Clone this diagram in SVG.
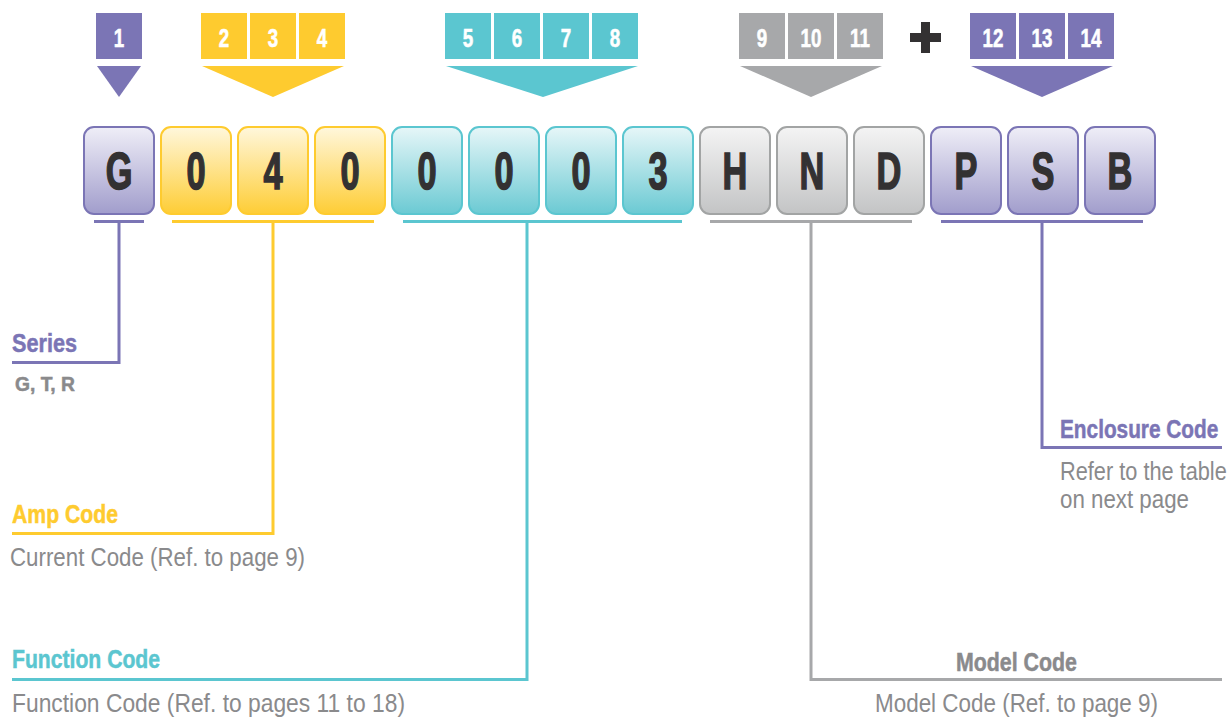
<svg xmlns="http://www.w3.org/2000/svg" width="1231" height="718" viewBox="0 0 1231 718">
<defs>
<linearGradient id="gP" x1="0" y1="0" x2="0" y2="1"><stop offset="0" stop-color="#efeef7"/><stop offset="1" stop-color="#a19dcc"/></linearGradient>
<linearGradient id="gY" x1="0" y1="0" x2="0" y2="1"><stop offset="0" stop-color="#fff7dc"/><stop offset="1" stop-color="#fecd35"/></linearGradient>
<linearGradient id="gC" x1="0" y1="0" x2="0" y2="1"><stop offset="0" stop-color="#e6f6f8"/><stop offset="1" stop-color="#6bcad3"/></linearGradient>
<linearGradient id="gG" x1="0" y1="0" x2="0" y2="1"><stop offset="0" stop-color="#f4f4f4"/><stop offset="1" stop-color="#c3c4c5"/></linearGradient>
</defs>
<style>
.num{font-family:"Liberation Sans",Arial,sans-serif;font-weight:bold;font-size:25px;fill:#fff;stroke:#fff;stroke-width:0.6;text-anchor:middle}
.let{font-family:"Liberation Sans",Arial,sans-serif;font-weight:bold;font-size:52px;fill:#333132;stroke:#333132;stroke-width:1.6;text-anchor:middle}
.bP{fill:url(#gP);stroke:#7b75b5;stroke-width:2}
.bY{fill:url(#gY);stroke:#fecb2f;stroke-width:2}
.bC{fill:url(#gC);stroke:#5bc6d0;stroke-width:2}
.bG{fill:url(#gG);stroke:#a2a4a4;stroke-width:2}
.hd{font-family:"Liberation Sans",Arial,sans-serif;font-weight:bold;font-size:26px;stroke-width:0.5}
.sub{font-family:"Liberation Sans",Arial,sans-serif;font-size:25px;fill:#8a8a8c}
.ln{fill:none;stroke-width:3}
</style>

<g id="top-markers">
<g id="m1" fill="#7b75b5"><rect x="96" y="13" width="46" height="46"/><polygon points="97,66 141,66 119,97"/></g>
<g id="m234" fill="#fecb2f"><rect x="201" y="13" width="46" height="46"/><rect x="250" y="13" width="46" height="46"/><rect x="299" y="13" width="46" height="46"/><polygon points="202,66 344,66 273,97"/></g>
<g id="m5678" fill="#5bc6d0"><rect x="445" y="13" width="46" height="46"/><rect x="494" y="13" width="46" height="46"/><rect x="543" y="13" width="46" height="46"/><rect x="592" y="13" width="46" height="46"/><polygon points="446,66 638,66 543,97"/></g>
<g id="m91011" fill="#a7a8aa"><rect x="739" y="13" width="46" height="46"/><rect x="788" y="13" width="46" height="46"/><rect x="837" y="13" width="46" height="46"/><polygon points="740,66 882,66 811,97"/></g>
<g id="plus" fill="#333132"><rect x="910" y="33" width="31" height="9"/><rect x="921" y="22" width="9" height="31"/></g>
<g id="m121314" fill="#7b75b5"><rect x="970" y="13" width="46" height="46"/><rect x="1019" y="13" width="46" height="46"/><rect x="1068" y="13" width="46" height="46"/><polygon points="971,66 1113,66 1042,97"/></g>
<g id="marker-numbers">
<text class="num" transform="translate(119,47) scale(0.75,1)">1</text>
<text class="num" transform="translate(224,47) scale(0.75,1)">2</text>
<text class="num" transform="translate(273,47) scale(0.75,1)">3</text>
<text class="num" transform="translate(322,47) scale(0.75,1)">4</text>
<text class="num" transform="translate(468,47) scale(0.75,1)">5</text>
<text class="num" transform="translate(517,47) scale(0.75,1)">6</text>
<text class="num" transform="translate(566,47) scale(0.75,1)">7</text>
<text class="num" transform="translate(615,47) scale(0.75,1)">8</text>
<text class="num" transform="translate(762,47) scale(0.75,1)">9</text>
<text class="num" transform="translate(811,47) scale(0.75,1)">10</text>
<text class="num" transform="translate(860,47) scale(0.75,1)">11</text>
<text class="num" transform="translate(993,47) scale(0.75,1)">12</text>
<text class="num" transform="translate(1042,47) scale(0.75,1)">13</text>
<text class="num" transform="translate(1091,47) scale(0.75,1)">14</text>
</g>
</g>

<g id="code-boxes">
<g id="b1"><rect class="bP" x="84" y="127" width="70" height="87" rx="10"/><text class="let" transform="translate(119,189) scale(0.66,1)">G</text></g>
<g id="b2"><rect class="bY" x="161" y="127" width="70" height="87" rx="10"/><text class="let" transform="translate(196,189) scale(0.66,1)">0</text></g>
<g id="b3"><rect class="bY" x="238" y="127" width="70" height="87" rx="10"/><text class="let" transform="translate(273,189) scale(0.66,1)">4</text></g>
<g id="b4"><rect class="bY" x="315" y="127" width="70" height="87" rx="10"/><text class="let" transform="translate(350,189) scale(0.66,1)">0</text></g>
<g id="b5"><rect class="bC" x="392" y="127" width="70" height="87" rx="10"/><text class="let" transform="translate(427,189) scale(0.66,1)">0</text></g>
<g id="b6"><rect class="bC" x="469" y="127" width="70" height="87" rx="10"/><text class="let" transform="translate(504,189) scale(0.66,1)">0</text></g>
<g id="b7"><rect class="bC" x="546" y="127" width="70" height="87" rx="10"/><text class="let" transform="translate(581,189) scale(0.66,1)">0</text></g>
<g id="b8"><rect class="bC" x="623" y="127" width="70" height="87" rx="10"/><text class="let" transform="translate(658,189) scale(0.66,1)">3</text></g>
<g id="b9"><rect class="bG" x="700" y="127" width="70" height="87" rx="10"/><text class="let" transform="translate(735,189) scale(0.66,1)">H</text></g>
<g id="b10"><rect class="bG" x="777" y="127" width="70" height="87" rx="10"/><text class="let" transform="translate(812,189) scale(0.66,1)">N</text></g>
<g id="b11"><rect class="bG" x="854" y="127" width="70" height="87" rx="10"/><text class="let" transform="translate(889,189) scale(0.66,1)">D</text></g>
<g id="b12"><rect class="bP" x="931" y="127" width="70" height="87" rx="10"/><text class="let" transform="translate(966,189) scale(0.66,1)">P</text></g>
<g id="b13"><rect class="bP" x="1008" y="127" width="70" height="87" rx="10"/><text class="let" transform="translate(1043,189) scale(0.66,1)">S</text></g>
<g id="b14"><rect class="bP" x="1085" y="127" width="70" height="87" rx="10"/><text class="let" transform="translate(1120,189) scale(0.66,1)">B</text></g>
</g>

<g id="connectors">
<path class="ln" stroke="#7b75b5" d="M94,221.5H144M119,221.5V362.5H12"/>
<path class="ln" stroke="#fecb2f" d="M172,221.5H374M273,221.5V533.5H12"/>
<path class="ln" stroke="#5bc6d0" d="M403,221.5H682M527,221.5V679.5H12"/>
<path class="ln" stroke="#a7a8aa" d="M710,221.5H912M811,221.5V679.5H1222"/>
<path class="ln" stroke="#7b75b5" d="M941,221.5H1143M1042,221.5V447.5H1222"/>
</g>

<g id="labels">
<text class="hd" fill="#7b75b5" stroke="#7b75b5" x="12" y="352" textLength="65" lengthAdjust="spacingAndGlyphs">Series</text>
<text class="hd" fill="#8a8a8c" stroke="#8a8a8c" x="15" y="391" style="font-size:20px" textLength="60" lengthAdjust="spacingAndGlyphs">G, T, R</text>
<text class="hd" fill="#fecb2f" stroke="#fecb2f" x="12" y="523" textLength="106" lengthAdjust="spacingAndGlyphs">Amp Code</text>
<text class="sub" x="10" y="566" textLength="295" lengthAdjust="spacingAndGlyphs">Current Code (Ref. to page 9)</text>
<text class="hd" fill="#5bc6d0" stroke="#5bc6d0" x="12" y="668" textLength="148" lengthAdjust="spacingAndGlyphs">Function Code</text>
<text class="sub" x="12" y="712" textLength="393" lengthAdjust="spacingAndGlyphs">Function Code (Ref. to pages 11 to 18)</text>
<text class="hd" fill="#7b75b5" stroke="#7b75b5" transform="translate(1060,438) scale(0.8,1)">Enclosure Code</text>
<text class="sub" transform="translate(1060,480) scale(0.87,1)">Refer to the table</text>
<text class="sub" x="1060" y="508" textLength="129" lengthAdjust="spacingAndGlyphs">on next page</text>
<text class="hd" fill="#8a8a8c" stroke="#8a8a8c" x="956" y="671" textLength="121" lengthAdjust="spacingAndGlyphs">Model Code</text>
<text class="sub" x="875" y="712" textLength="283" lengthAdjust="spacingAndGlyphs">Model Code (Ref. to page 9)</text>
</g>
</svg>
